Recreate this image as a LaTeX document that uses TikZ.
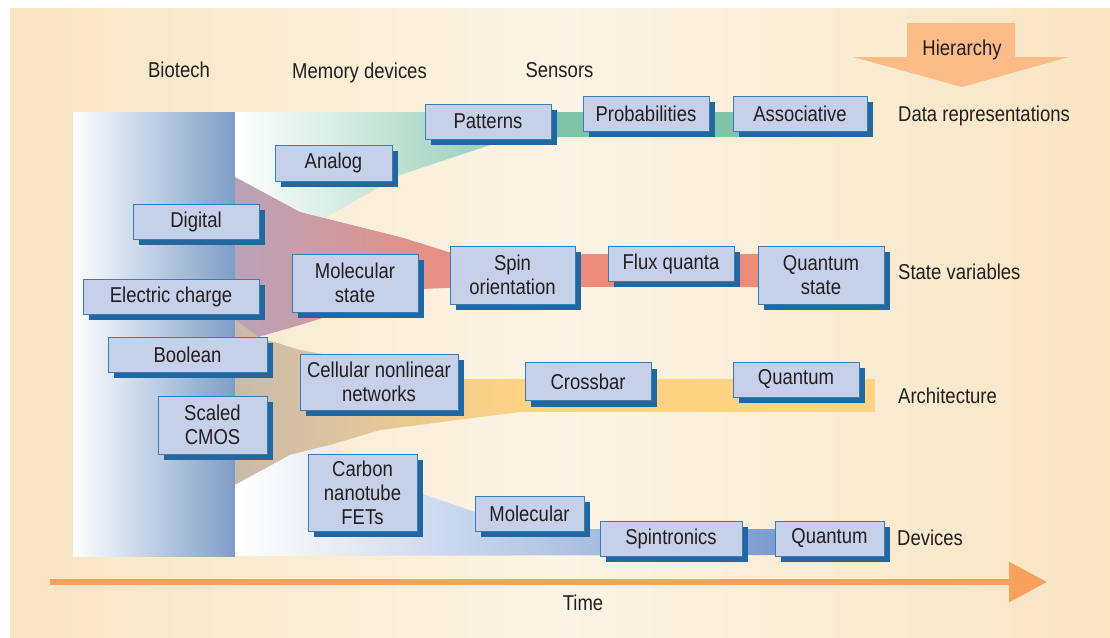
\documentclass[tikz,border=0pt]{standalone}
\usepackage{fontspec}
\setmainfont{Liberation Sans}[FakeStretch=0.86]
\usetikzlibrary{arrows.meta, shadows}
\definecolor{bgedge}{RGB}{248,229,194}
\definecolor{bgmid}{RGB}{252,244,230}
\definecolor{panelblue}{RGB}{126,157,198}
\definecolor{tealband}{RGB}{126,194,168}
\definecolor{mauveband}{RGB}{185,163,185}
\definecolor{pinkband}{RGB}{238,140,124}
\definecolor{tanband}{RGB}{200,187,170}
\definecolor{yellowband}{RGB}{255,211,132}
\definecolor{devband}{RGB}{123,156,208}
\definecolor{boxfill}{RGB}{198,208,232}
\definecolor{boxline}{RGB}{58,125,181}
\definecolor{boxshade}{RGB}{34,103,160}
\definecolor{hierorange}{RGB}{251,188,135}
\definecolor{timeorange}{RGB}{247,161,92}
\definecolor{inktext}{RGB}{35,31,32}

\begin{document}
\begin{tikzpicture}[x=1pt, y=-1pt, font=\fontsize{21.5}{24}\selectfont, text=inktext,
    boxnode/.style={draw=boxline, line width=0.9pt, fill=boxfill, inner sep=0pt, align=center,
      drop shadow={shadow xshift=6pt, shadow yshift=-6pt, fill=boxshade, opacity=1}},
    label/.style={inner sep=0pt, anchor=base},
    rowlabel/.style={inner sep=0pt, anchor=base west}]
    \useasboundingbox (0,0) rectangle (1110,637);
    % Background
    \fill[white] (0,0) rectangle (1110,637);
    \shade[left color=bgedge, right color=bgedge, middle color=bgmid] (10,8) rectangle (1110,637);
    \shade[left color=white, right color=panelblue] (73,112) rectangle (235,556);
    % Data representations band
    \shade[left color=white, right color=tealband]
      (235,112) -- (560,112) -- (560,137) -- (520,137) -- (490,145) -- (400,175)
      -- (325,218) -- (300,212) -- (235,177) -- cycle;
    \fill[tealband] (559,112) rectangle (870,137);
    % State variables band
    \shade[left color=mauveband, right color=pinkband]
      (235,177) -- (300,212) -- (400,237) -- (455,254) -- (470,254) -- (470,287)
      -- (420,289) -- (380,300) -- (300,325) -- (258,337) -- (235,320) -- cycle;
    \fill[pinkband] (469,254) rectangle (770,287);
    % Architecture band
    \shade[left color=tanband, right color=yellowband]
      (235,320) -- (258,337) -- (300,350) -- (440,375) -- (465,379) -- (520,379)
      -- (520,412) -- (380,430) -- (330,445) -- (290,455) -- (235,485) -- cycle;
    \fill[yellowband] (519,379) rectangle (875,412);
    % Devices band
    \shade[left color=white, right color=devband]
      (235,485) -- (290,455) -- (330,445) -- (423,494) -- (475,512) -- (540,529)
      -- (780,529) -- (780,555) -- (235,556) -- cycle;
    % Hierarchy arrow
    \fill[hierorange] (907,23) -- (1015,23) -- (1015,57) -- (1069,57) -- (962,87)
      -- (853,57) -- (907,57) -- cycle;
    \node[label] (hier) at (962,55) {Hierarchy};
    % Time axis
    \coordinate (tstart) at (50,582);
    \coordinate (tend) at (1047,582);
    \draw[timeorange, line width=6pt, -{Triangle[length=38pt, width=39pt]}] (tstart) -- (tend);
    \node[label] (time) at (583,610) {Time};
    % Column and row labels
    \node[label] (biotech) at (179,77) {Biotech};
    \node[label] (memdev) at (359.5,78) {Memory devices};
    \node[label] (sensors) at (559.5,77) {Sensors};
    \node[rowlabel] (datarep) at (898,121) {Data representations};
    \node[rowlabel] (statevar) at (898,279) {State variables};
    \node[rowlabel] (arch) at (898,403) {Architecture};
    \node[rowlabel] (devices) at (897,545) {Devices};
    % Boxes
    \node[boxnode, minimum width=176pt, minimum height=35pt] (charge) at (171,296.5) {Electric charge};
    \node[boxnode, minimum width=126pt, minimum height=35pt] (digital) at (196,221.5) {Digital};
    \node[boxnode, minimum width=159pt, minimum height=35pt] (boolean) at (187.5,354.5) {Boolean};
    \node[boxnode, minimum width=109pt, minimum height=58pt] (cmos) at (212.5,425) {Scaled\\CMOS};
    \node[boxnode, minimum width=117pt, minimum height=36pt] (analog) at (333.5,163) {Analog};
    \node[boxnode, minimum width=126pt, minimum height=35pt] (patterns) at (488,121.5) {Patterns};
    \node[boxnode, minimum width=126pt, minimum height=35pt] (prob) at (646,113.5) {Probabilities};
    \node[boxnode, minimum width=134pt, minimum height=35pt] (assoc) at (800,113.5) {Associative};
    \node[boxnode, minimum width=126pt, minimum height=58pt] (molstate) at (355,283) {Molecular\\state};
    \node[boxnode, minimum width=125pt, minimum height=58pt] (spin) at (512.5,275) {Spin\\orientation};
    \node[boxnode, minimum width=126pt, minimum height=35pt] (flux) at (671,263.5) {Flux quanta};
    \node[boxnode, minimum width=126pt, minimum height=58pt] (qstate) at (821,275) {Quantum\\state};
    \node[boxnode, minimum width=158pt, minimum height=56pt] (cellular) at (379,382) {Cellular nonlinear\\networks};
    \node[boxnode, minimum width=126pt, minimum height=38pt] (crossbar) at (588,381.5) {Crossbar};
    \node[boxnode, minimum width=126pt, minimum height=35pt] (qarch) at (796,379.5) {Quantum};
    \node[boxnode, minimum width=109pt, minimum height=77pt] (carbon) at (362.5,492.5) {Carbon\\nanotube\\FETs};
    \node[boxnode, minimum width=109pt, minimum height=35pt] (molecular) at (529.5,513.5) {Molecular};
    \node[boxnode, minimum width=142pt, minimum height=35pt] (spintronics) at (671,538.5) {Spintronics};
    \node[boxnode, minimum width=109pt, minimum height=35pt] (qdev) at (829.5,538.5) {Quantum};
\end{tikzpicture}
\end{document}
